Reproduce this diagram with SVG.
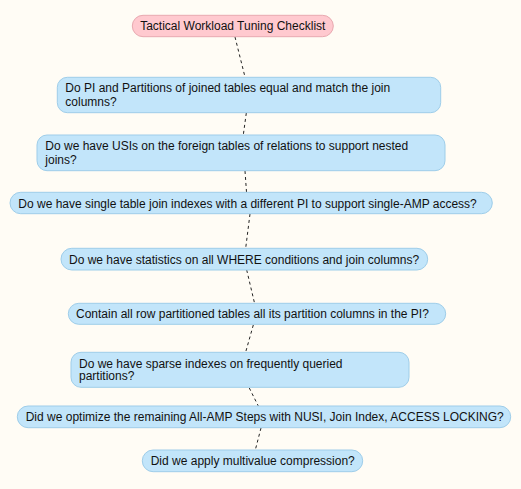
<svg xmlns="http://www.w3.org/2000/svg" width="521" height="489" viewBox="0 0 521 489">
<style>
.bg{fill:#FFFCF5}
.root{fill:#FFC9CF;stroke:#E8A9B0;stroke-width:1}
.n{fill:#C2E5FA;stroke:#9ECDE9;stroke-width:1}
text{font-family:"Liberation Sans",Arial,sans-serif;font-size:12px;fill:#111}
.e{stroke:#222;stroke-width:1;stroke-dasharray:3,3;fill:none}
</style>
<rect class="bg" x="0" y="0" width="521" height="489"/>
<g id="connectors">
<line class="e" x1="235" y1="37" x2="245" y2="77"/>
<line class="e" x1="246.3" y1="113" x2="243.3" y2="135"/>
<line class="e" x1="245" y1="171" x2="246.5" y2="192"/>
<line class="e" x1="250" y1="214" x2="245.7" y2="248"/>
<line class="e" x1="246.7" y1="270" x2="254.5" y2="303"/>
<line class="e" x1="253.3" y1="325" x2="245.7" y2="352"/>
<line class="e" x1="249.3" y1="388" x2="258.3" y2="406"/>
<line class="e" x1="261" y1="428" x2="255.3" y2="450"/>
</g>
<g id="n0">
<rect class="root" x="132.3" y="15.3" width="201" height="21.4" rx="10.7"/>
<text x="232.8" y="30.2" text-anchor="middle">Tactical Workload Tuning Checklist</text>
</g>
<g id="n1">
<rect class="n" x="57.3" y="77.3" width="383.4" height="35.4" rx="10"/>
<text x="65.3" y="92.2">Do PI and Partitions of joined tables equal and match the join</text>
<text x="65.3" y="106">columns?</text>
</g>
<g id="n2">
<rect class="n" x="37" y="135" width="408" height="35.7" rx="10"/>
<text x="45.3" y="150.2">Do we have USIs on the foreign tables of relations to support nested</text>
<text x="45.3" y="164.2">joins?</text>
</g>
<g id="n3">
<rect class="n" x="10" y="192.3" width="482.3" height="21.4" rx="10.7"/>
<text x="18.3" y="207.5">Do we have single table join indexes with a different PI to support single-AMP access?</text>
</g>
<g id="n4">
<rect class="n" x="61" y="248.3" width="366.7" height="21.7" rx="10.8"/>
<text x="69" y="263.5">Do we have statistics on all WHERE conditions and join columns?</text>
</g>
<g id="n5">
<rect class="n" x="68.3" y="303.3" width="377.4" height="21" rx="10.5"/>
<text x="76" y="317.9">Contain all row partitioned tables all its partition columns in the PI?</text>
</g>
<g id="n6">
<rect class="n" x="71" y="352.3" width="338" height="35" rx="10"/>
<text x="79" y="367.5">Do we have sparse indexes on frequently queried</text>
<text x="79" y="380.2">partitions?</text>
</g>
<g id="n7">
<rect class="n" x="17.3" y="406" width="493.4" height="21.7" rx="10.8"/>
<text x="25.7" y="421.2">Did we optimize the remaining All-AMP Steps with NUSI, Join Index, ACCESS LOCKING?</text>
</g>
<g id="n8">
<rect class="n" x="142.3" y="450" width="220.4" height="21.7" rx="10.8"/>
<text x="150.7" y="464.5">Did we apply multivalue compression?</text>
</g>
</svg>
